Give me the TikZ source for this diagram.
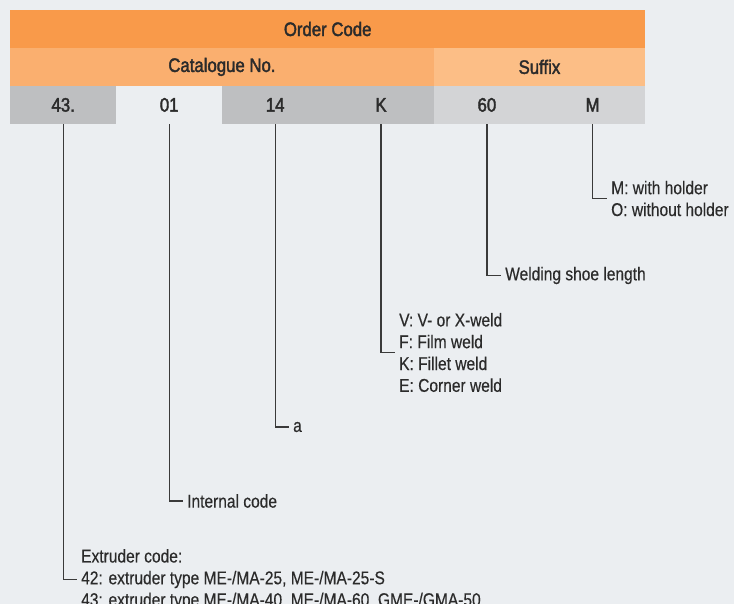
\documentclass[tikz,border=0pt]{standalone}
\usepackage{fontspec}
\setmainfont{Liberation Sans}[FakeStretch=0.84,FakeBold=0.35]
\newfontfamily\headfont{Liberation Sans}[FakeStretch=0.86,FakeBold=2]
\begin{document}
\begin{tikzpicture}[x=1pt,y=-1pt,
  cell/.style={draw=none,anchor=north west,inner sep=0pt,minimum height=38pt,
    font=\headfont\fontsize{19.5}{21}\selectfont,text=txt},
  lbl/.style={anchor=west,inner xsep=4pt,inner ysep=0pt,align=left,
    font=\fontsize{18.5}{21.8}\selectfont,text=txt},
  conn/.style={draw=lin,line width=1.4pt}]
\definecolor{bg}{HTML}{EBEEF1}
\definecolor{ocode}{HTML}{F99A4A}
\definecolor{cat}{HTML}{FAAF6F}
\definecolor{suf}{HTML}{FCBE86}
\definecolor{gA}{HTML}{BEBFC1}
\definecolor{gB}{HTML}{D3D4D6}
\definecolor{txt}{HTML}{2B2B2B}
\definecolor{lin}{HTML}{3A3A3A}
\fill[bg] (0,0) rectangle (734,604);
\useasboundingbox (0,0) rectangle (734,604);
% header rows
\node[cell,fill=ocode,minimum width=635pt,minimum height=37.7pt] (order) at (10,10) {Order Code};
\node[cell,fill=cat,minimum width=423.5pt] (catno) at (10,47.7) {Catalogue No.};
\node[cell,fill=suf,minimum width=211.5pt] (suffix) at (433.5,47.7) {Suffix};
% code row
\node[cell,fill=gA,minimum width=106pt] (c1) at (10,85.7) {43.};
\node[cell,fill=bg,minimum width=106pt] (c2) at (116,85.7) {01};
\node[cell,fill=gA,minimum width=106pt] (c3) at (222,85.7) {14};
\node[cell,fill=gA,minimum width=106pt] (c4) at (327.8,85.7) {K};
\node[cell,fill=gB,minimum width=106pt] (c5) at (433.7,85.7) {60};
\node[cell,fill=gB,minimum width=105.3pt] (c6) at (539.7,85.7) {M};
% labels
\node[lbl] (l6) at (607,198.5) {M: with holder\\O: without holder};
\node[lbl] (l5) at (501,275.5) {Welding shoe length};
\node[lbl] (l4) at (395,352.5) {V: V- or X-weld\\F: Film weld\\K: Fillet weld\\E: Corner weld};
\node[lbl] (l3) at (289,427) {a};
\node[lbl] (l2) at (183,501) {Internal code};
\node[lbl] (l1) at (77,579.5) {Extruder code:\\42: extruder type ME-/MA-25, ME-/MA-25-S\\43: extruder type ME-/MA-40, ME-/MA-60, GME-/GMA-50};
% connectors
\draw[conn] (c6.south) |- (l6.west);
\draw[conn] (c5.south) |- (l5.west);
\draw[conn] (c4.south) |- (l4.west);
\draw[conn] (c3.south) |- (l3.west);
\draw[conn] (c2.south) |- (l2.west);
\draw[conn] (c1.south) |- (l1.west);
\end{tikzpicture}
\end{document}
